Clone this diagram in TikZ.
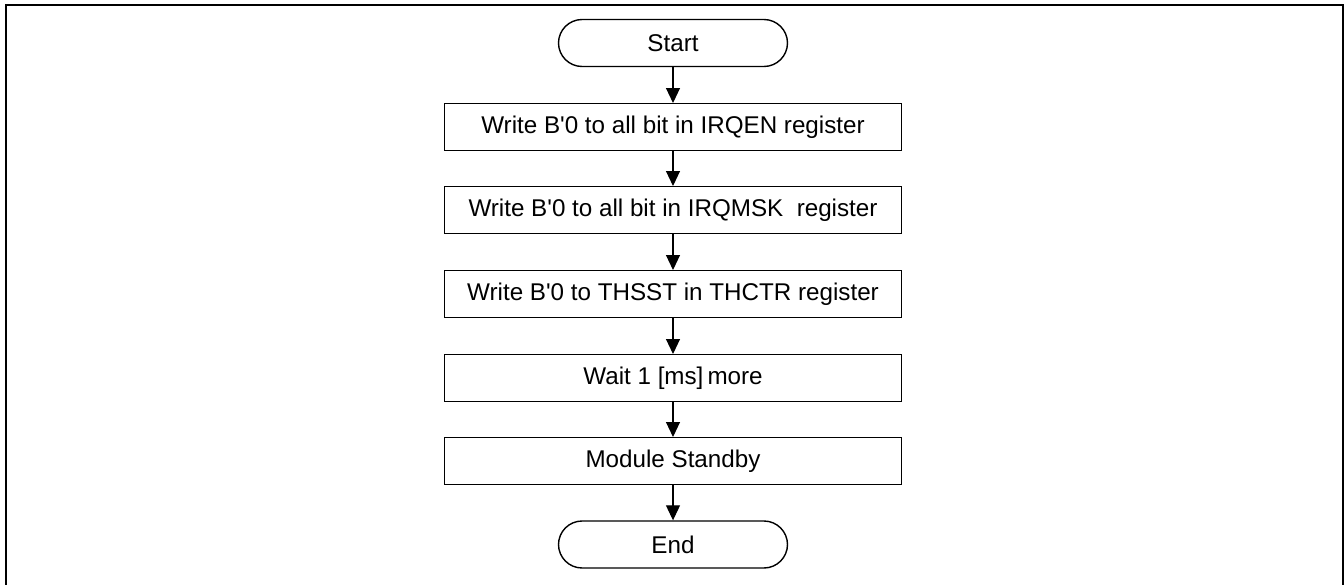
\documentclass[tikz,border=0pt]{standalone}
\usepackage{fontspec}
\setmainfont{Liberation Sans}[Ligatures=TeXOff]
\usetikzlibrary{arrows.meta}
\begin{document}
\begin{tikzpicture}[x=0.5pt,y=-0.5pt,
  every node/.style={font=\fontsize{12.1}{14}\selectfont, inner sep=0pt},
  procbox/.style={draw, line width=0.7pt, rectangle, minimum width=228.5pt, minimum height=23.3pt},
  termbox/.style={draw, line width=0.7pt, rectangle, rounded corners=11.8pt, minimum width=114.5pt, minimum height=23.5pt},
  flow/.style={line width=0.55pt, -{Triangle[length=7.5pt,width=7pt]}}]
\useasboundingbox (0,0) rectangle (1344,584);
\draw[line width=1.1pt] (6,590) -- (6,5) -- (1343,5) -- (1343,590);
\node[termbox] (start) at (673,43) {Start};
\node[procbox] (b1) at (673,127) {Write B'0 to all bit in IRQEN register};
\node[procbox] (b2) at (673,210) {Write B'0 to all bit in IRQMSK\ \ register};
\node[procbox] (b3) at (673,294) {Write B'0 to THSST in THCTR register};
\node[procbox] (b4) at (673,378) {Wait 1 [ms]\,more};
\node[procbox] (b5) at (673,461) {Module Standby};
\node[termbox] (end) at (673,544.5) {End};
\draw[flow] (start) -- (b1);
\draw[flow] (b1) -- (b2);
\draw[flow] (b2) -- (b3);
\draw[flow] (b3) -- (b4);
\draw[flow] (b4) -- (b5);
\draw[flow] (b5) -- (end);
\end{tikzpicture}
\end{document}
